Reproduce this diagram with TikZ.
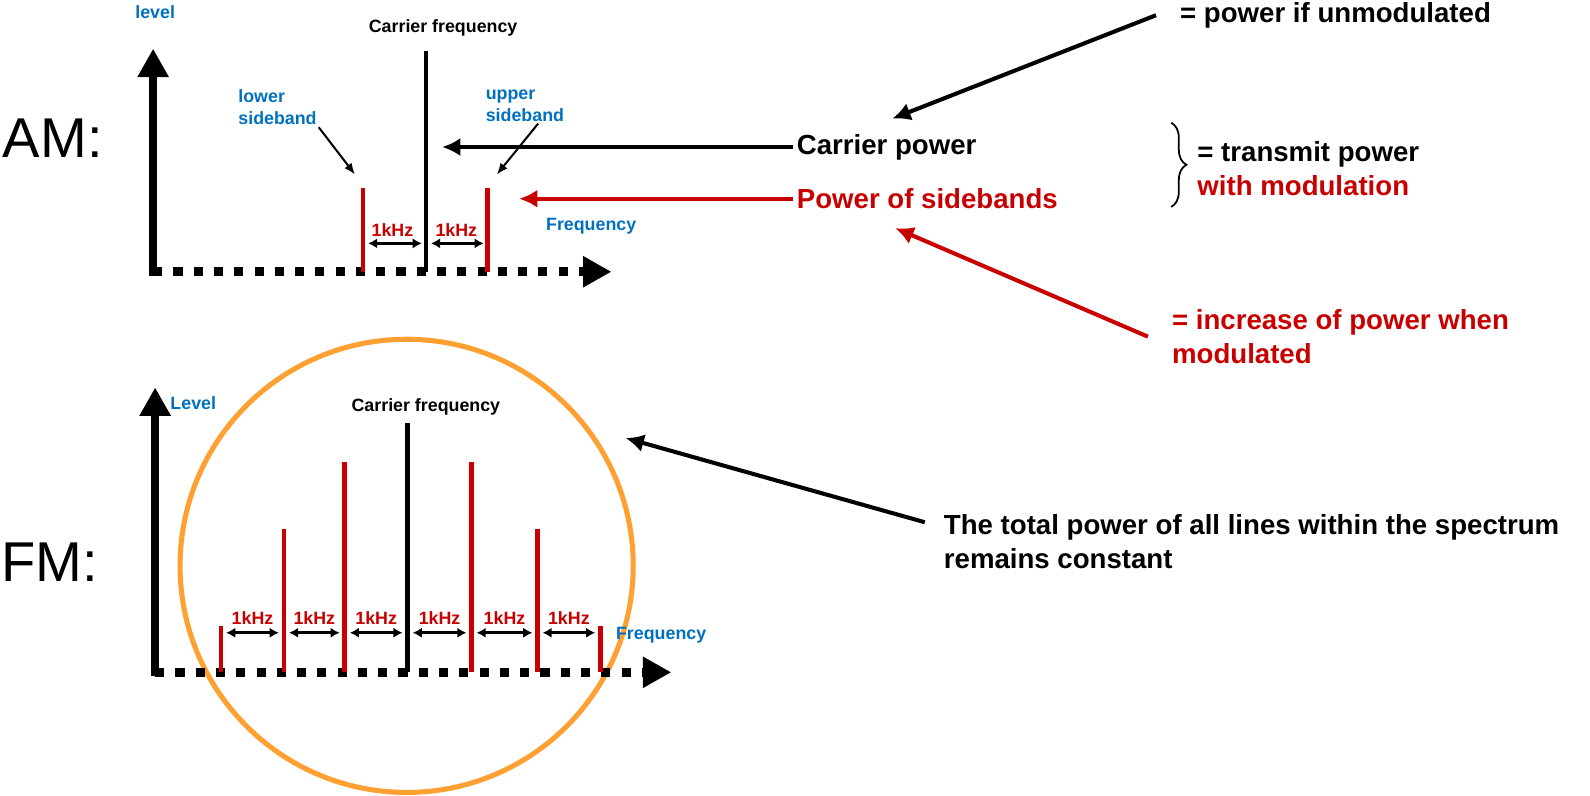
\documentclass[tikz,border=0pt]{standalone}
\usepackage{fontspec}
\setmainfont{Liberation Sans}
\usepackage{tikz}
\usetikzlibrary{arrows.meta,decorations.pathreplacing}
\definecolor{sbred}{RGB}{200,0,0}
\definecolor{lblblue}{RGB}{0,112,192}
\definecolor{ringorange}{RGB}{255,160,51}

\begin{document}
\begin{tikzpicture}[
  x=0.02cm, y=-0.02cm,
  lblbig/.style={font=\bfseries\fontsize{15.5}{19}\selectfont, anchor=west,
  align=left, inner sep=2pt},
  lblsmall/.style={font=\bfseries\fontsize{10}{12.5}\selectfont, inner sep=1pt},
  headtxt/.style={font=\fontsize{31.5}{32}\selectfont, inner sep=0pt},
  axisarrow/.style={line width=0.16cm, -{Triangle[length=0.56cm,width=0.58cm]}},
  dotaxis/.style={line width=0.18cm, dash pattern=on 0.18cm off 0.22cm,
  -{Triangle[length=0.56cm,width=0.58cm]}},
  specline/.style={line width=0.09cm},
  bigarrow/.style={line width=0.08cm, -{Latex[length=0.36cm,width=0.36cm]}},
  ptr/.style={line width=0.04cm, -{Latex[length=0.22cm,width=0.18cm]}},
  gaparrow/.style={line width=0.05cm,
  {Latex[length=0.18cm,width=0.2cm]}-{Latex[length=0.18cm,width=0.2cm]}},
  bracket/.style={line width=0.035cm, decorate,
  decoration={brace, amplitude=0.3cm}}
]
\useasboundingbox (0,0) rectangle (1568,784);

% AM spectrum
\node[headtxt] (amlbl) at (52,136) {AM:};
\coordinate (amo) at (151,268);
\draw[axisarrow] (151,272) -- (151,48);
\draw[dotaxis] (amo) -- (603,268);
\node[lblsmall, lblblue] (amlevel) at (153,12) {level};
\node[lblsmall] (amcf) at (437,28) {Carrier frequency};

\coordinate (amcar) at (420,50);
\draw[specline] (amcar) -- (amcar |- amo);
\foreach \x [count=\i] in {358,481}
  \draw[specline, sbred] (\x,268) -- (\x,185) coordinate (amsb\i);

\draw[gaparrow] (363,240) -- (416,240);
\draw[gaparrow] (425,240) -- (477,240);
\node[lblsmall, sbred] (amk1) at (387,227) {1kHz};
\node[lblsmall, sbred] (amk2) at (450,227) {1kHz};

\node[lblsmall, lblblue, align=left, anchor=west] (lowsb) at (233,106) {lower\\sideband};
\node[lblsmall, lblblue, align=left, anchor=west] (upsb) at (477,104) {upper\\sideband};
\coordinate (lstip) at (350,172);
\coordinate (ustip) at (490,172);
\draw[ptr] (lowsb.south east) -- (lstip);
\draw[ptr] ([xshift=0.26cm]upsb.south) -- (ustip);
\node[lblsmall, lblblue] (amfreq) at (583,223) {Frequency};

% power notes
\node[lblbig] (cpow) at (782,145) {Carrier power};
\node[lblbig, sbred] (psb) at (782,196) {Power of sidebands};
\coordinate (cftip) at (436,145);
\coordinate (sbtip) at (512,196);
\draw[bigarrow] (cpow.west) -- (cftip);
\draw[bigarrow, sbred] (psb.west) -- (sbtip);

\node[lblbig] (unmod) at (1160,15) {= power if unmodulated};
\coordinate (cptop) at (880,117);
\draw[bigarrow] ([xshift=-0.4cm]unmod.west) -- (cptop);

\coordinate (brtop) at (1155,121);
\coordinate (brbot) at (1155,204);
\draw[bracket] (brtop) -- (brbot);
\node[lblbig] (trans) at (1177,166) {= transmit power\\\textcolor{sbred}{with modulation}};

\node[lblbig, sbred] (incr) at (1152,332) {= increase of power when\\modulated};
\coordinate (sbbot) at (883,225);
\draw[bigarrow, sbred] ([xshift=-0.4cm]incr.west) -- (sbbot);

% FM spectrum
\coordinate (ring) at (401,558);
\draw[ringorange, line width=0.1cm] (ring) circle[radius=4.47cm];

\node[headtxt] (fmlbl) at (49,554) {FM:};
\coordinate (fmo) at (153,663);
\draw[axisarrow] (153,667) -- (153,382);
\draw[dotaxis] (fmo) -- (662,663);
\node[lblsmall, lblblue, anchor=west] (fmlevel) at (166,398) {Level};
\node[lblsmall] (fmcf) at (420,401) {Carrier frequency};
\node[lblsmall, lblblue] (fmfreq) at (652,626) {Frequency};

\foreach \x/\t/\c [count=\i] in {218/617/sbred, 280/522/sbred, 340/456/sbred,
  402/417/black, 465/456/sbred, 530/522/sbred, 592/617/sbred}
  \draw[specline, \c] (\x,663) -- (\x,\t) coordinate (fml\i);
\foreach \a/\b [count=\i] in {218/280, 280/340, 340/402, 402/465, 465/530, 530/592} {
  \draw[gaparrow] (\a+5,624) -- (\b-5,624);
  \node[lblsmall, sbred] (fmk\i) at ({(\a+\b)/2},609) {1kHz};
}

\node[lblbig] (total) at (927,534) {The total power of all lines within the spectrum\\remains constant};
\coordinate (ringtip) at (617,432);
\draw[bigarrow] ([xshift=-0.3cm, yshift=0.38cm]total.west) -- (ringtip);
\end{tikzpicture}
\end{document}
